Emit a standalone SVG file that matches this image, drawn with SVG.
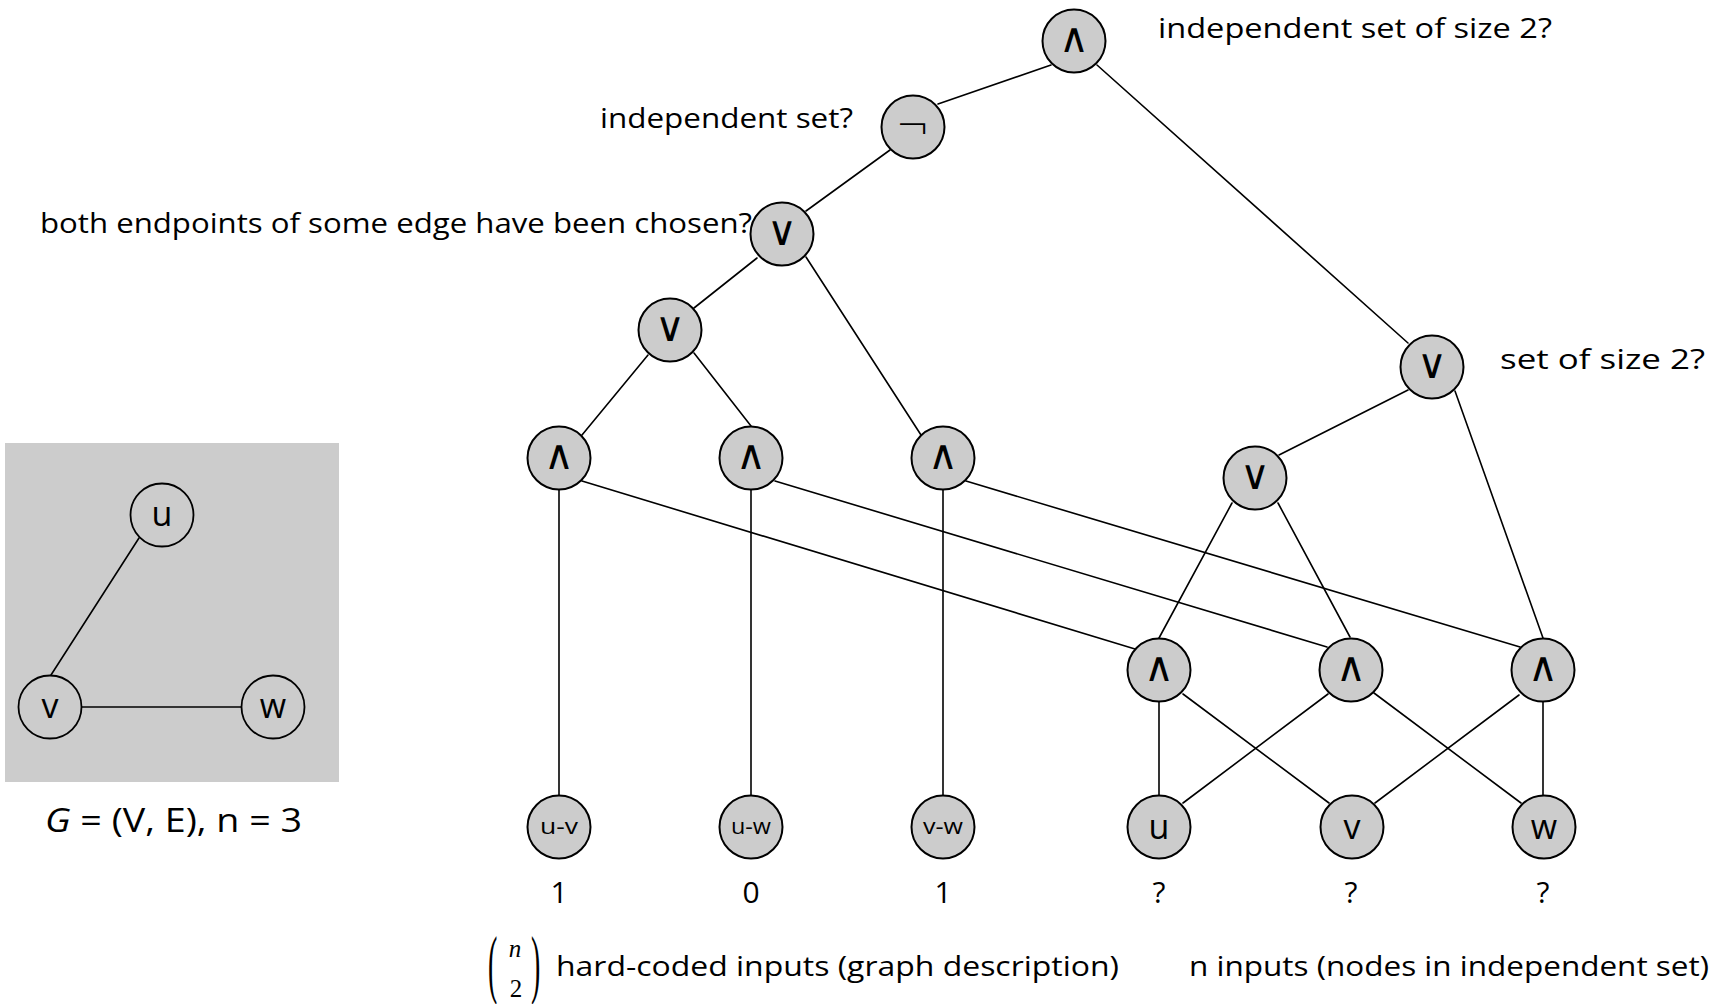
<svg xmlns="http://www.w3.org/2000/svg" width="1719" height="1004" viewBox="0 0 1719 1004">
<style>
.bg{fill:#ffffff}
.box{fill:#cccccc;stroke:none}
.edge{stroke:#000;stroke-width:1.6;fill:none;stroke-linecap:round}
.node{fill:#cccccc;stroke:#000;stroke-width:2}
.gnode{fill:#cccccc;stroke:#000;stroke-width:1.8}
.sym{font-family:"DejaVu Sans",sans-serif;font-size:41px;font-weight:200;text-anchor:middle;fill:#000}
.lbl{font-family:"Open Sans","DejaVu Sans",sans-serif;font-size:28px;fill:#000}
.gl{font-family:"Open Sans","DejaVu Sans",sans-serif;font-size:34px;text-anchor:middle;fill:#000}
.in{font-family:"Open Sans","DejaVu Sans",sans-serif;font-size:34px;text-anchor:middle;fill:#000}
.sm{font-family:"Open Sans","DejaVu Sans",sans-serif;font-size:21px;text-anchor:middle;fill:#000}
.val{font-family:"Open Sans","DejaVu Sans",sans-serif;font-size:30px;text-anchor:middle;fill:#000}
.ser{font-family:"Liberation Serif",serif;fill:#000}
</style>
<rect class="bg" x="0" y="0" width="1719" height="1004"/>

<g id="graph">
  <rect class="box" x="5" y="443" width="334" height="339"/>
  <g id="graph-edges">
    <line class="edge" x1="139" y1="538" x2="51" y2="675"/>
    <line class="edge" x1="82" y1="707" x2="242" y2="707"/>
  </g>
  <g id="g-u"><circle class="gnode" cx="162" cy="515" r="31.5"/><text class="gl" x="162" y="526">u</text></g>
  <g id="g-v"><circle class="gnode" cx="50" cy="707" r="31.5"/><text class="gl" x="50" y="718">v</text></g>
  <g id="g-w"><circle class="gnode" cx="273" cy="707" r="31.5"/><text class="gl" x="273" y="718">w</text></g>
  <text id="g-caption" class="lbl" x="45" y="832" style="font-size:32px" textLength="257" lengthAdjust="spacingAndGlyphs"><tspan font-style="italic">G</tspan> = (V, E), n = 3</text>
</g>

<g id="connectors">
  <line class="edge" x1="1051" y1="65" x2="938" y2="104"/>
  <line class="edge" x1="1097" y1="65" x2="1408" y2="343"/>
  <line class="edge" x1="890" y1="150" x2="806" y2="211"/>
  <line class="edge" x1="757" y1="258" x2="694" y2="308"/>
  <line class="edge" x1="806" y1="257" x2="921" y2="435"/>
  <line class="edge" x1="648" y1="355" x2="582" y2="435"/>
  <line class="edge" x1="694" y1="353" x2="751" y2="426"/>
  <line class="edge" x1="559" y1="490" x2="559" y2="795"/>
  <line class="edge" x1="751" y1="490" x2="751" y2="795"/>
  <line class="edge" x1="943" y1="490" x2="943" y2="795"/>
  <line class="edge" x1="582" y1="481" x2="1135" y2="649"/>
  <line class="edge" x1="775" y1="481" x2="1327" y2="647"/>
  <line class="edge" x1="966" y1="481" x2="1520" y2="647"/>
  <line class="edge" x1="1408" y1="390" x2="1279" y2="455"/>
  <line class="edge" x1="1455" y1="391" x2="1543" y2="638"/>
  <line class="edge" x1="1232" y1="503" x2="1159" y2="638"/>
  <line class="edge" x1="1278" y1="503" x2="1350" y2="637"/>
  <line class="edge" x1="1159" y1="702" x2="1159" y2="795"/>
  <line class="edge" x1="1183" y1="694" x2="1329" y2="803"/>
  <line class="edge" x1="1328" y1="694" x2="1183" y2="803"/>
  <line class="edge" x1="1374" y1="693" x2="1521" y2="803"/>
  <line class="edge" x1="1519" y1="695" x2="1375" y2="803"/>
  <line class="edge" x1="1543" y1="702" x2="1543" y2="795"/>
</g>

<g id="n-and-top"><circle class="node" cx="1074" cy="41" r="31.5"/><text class="sym" x="1074" y="52">∧</text></g>
<g id="n-not"><circle class="node" cx="913" cy="127" r="31.5"/><text class="sym" x="913" y="140">¬</text></g>
<g id="n-or-edges"><circle class="node" cx="782" cy="234" r="31.5"/><text class="sym" x="782" y="245">∨</text></g>
<g id="n-or-left"><circle class="node" cx="670" cy="330" r="31.5"/><text class="sym" x="670" y="341">∨</text></g>
<g id="n-and-uv"><circle class="node" cx="559" cy="458" r="31.5"/><text class="sym" x="559" y="469">∧</text></g>
<g id="n-and-uw"><circle class="node" cx="751" cy="458" r="31.5"/><text class="sym" x="751" y="469">∧</text></g>
<g id="n-and-vw"><circle class="node" cx="943" cy="458" r="31.5"/><text class="sym" x="943" y="469">∧</text></g>
<g id="n-or-size"><circle class="node" cx="1432" cy="367" r="31.5"/><text class="sym" x="1432" y="378">∨</text></g>
<g id="n-or-mid"><circle class="node" cx="1255" cy="478" r="31.5"/><text class="sym" x="1255" y="489">∨</text></g>
<g id="n-and-b1"><circle class="node" cx="1159" cy="670" r="31.5"/><text class="sym" x="1159" y="681">∧</text></g>
<g id="n-and-b2"><circle class="node" cx="1351" cy="670" r="31.5"/><text class="sym" x="1351" y="681">∧</text></g>
<g id="n-and-b3"><circle class="node" cx="1543" cy="670" r="31.5"/><text class="sym" x="1543" y="681">∧</text></g>

<g id="in-uv"><circle class="node" cx="559" cy="827" r="31.5"/><text class="sm" x="559" y="834" textLength="38" lengthAdjust="spacingAndGlyphs">u-v</text></g>
<g id="in-uw"><circle class="node" cx="751" cy="827" r="31.5"/><text class="sm" x="751" y="834" textLength="40" lengthAdjust="spacingAndGlyphs">u-w</text></g>
<g id="in-vw"><circle class="node" cx="943" cy="827" r="31.5"/><text class="sm" x="943" y="834" textLength="40" lengthAdjust="spacingAndGlyphs">v-w</text></g>
<g id="in-u"><circle class="node" cx="1159" cy="827" r="31.5"/><text class="in" x="1159" y="839">u</text></g>
<g id="in-v"><circle class="node" cx="1352" cy="827" r="31.5"/><text class="in" x="1352" y="839">v</text></g>
<g id="in-w"><circle class="node" cx="1544" cy="827" r="31.5"/><text class="in" x="1544" y="839">w</text></g>

<g id="labels">
  <text class="lbl" x="1158" y="38" textLength="394" lengthAdjust="spacingAndGlyphs">independent set of size 2?</text>
  <text class="lbl" x="600" y="128" textLength="253" lengthAdjust="spacingAndGlyphs">independent set?</text>
  <text class="lbl" x="40" y="233" textLength="712" lengthAdjust="spacingAndGlyphs">both endpoints of some edge have been chosen?</text>
  <text class="lbl" x="1500" y="369" textLength="205" lengthAdjust="spacingAndGlyphs">set of size 2?</text>
  <text class="val" x="559" y="903">1</text>
  <text class="val" x="751" y="903">0</text>
  <text class="val" x="943" y="903">1</text>
  <text class="val" x="1159" y="903">?</text>
  <text class="val" x="1351" y="903">?</text>
  <text class="val" x="1543" y="903">?</text>
  <text class="lbl" x="556" y="976" textLength="563" lengthAdjust="spacingAndGlyphs">hard-coded inputs (graph description)</text>
  <text class="lbl" x="1189" y="976" textLength="520" lengthAdjust="spacingAndGlyphs">n inputs (nodes in independent set)</text>
  <text class="ser" transform="translate(488,989) scale(1,2.7)" font-size="28">(</text>
  <text class="ser" transform="translate(531,989) scale(1,2.7)" font-size="28">)</text>
  <text class="ser" x="515" y="957" font-size="25" font-style="italic" text-anchor="middle">n</text>
  <text class="ser" x="516" y="997" font-size="25" text-anchor="middle">2</text>
</g>
</svg>
